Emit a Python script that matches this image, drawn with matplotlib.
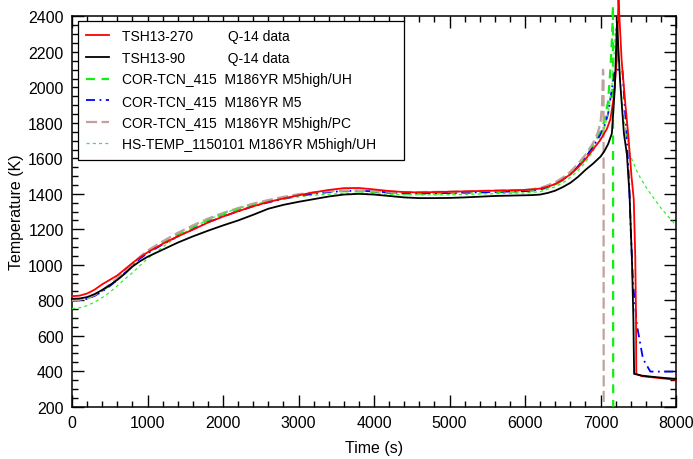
import numpy as np
import matplotlib
matplotlib.use("Agg")
import matplotlib.pyplot as plt
from matplotlib.ticker import MultipleLocator

plt.rcParams['font.family'] = ['Liberation Sans', 'DejaVu Sans']

# TSH13-270 (Q-14 data)
t_red = [0, 100, 200, 300, 400, 500, 600, 700, 800, 900, 1000, 1200, 1400, 1600, 1800,
         2000, 2200, 2400, 2600, 2800, 3000, 3200, 3400, 3600, 3800, 4000, 4200, 4400,
         4600, 4800, 5000, 5200, 5400, 5600, 5800, 6000, 6100, 6200, 6300, 6400, 6500,
         6600, 6700, 6800, 6900, 7000, 7085, 7130, 7173, 7215, 7238, 7280, 7330, 7370,
         7410, 7440, 7460, 7470, 7474, 7550, 7700, 7850, 8000]
T_red = [823, 826, 838, 860, 890, 915, 940, 975, 1010, 1042, 1070, 1118, 1160, 1198, 1238,
         1272, 1302, 1330, 1354, 1374, 1392, 1408, 1422, 1432, 1433, 1425, 1416, 1410,
         1408, 1410, 1412, 1414, 1416, 1418, 1420, 1422, 1425, 1430, 1440, 1455, 1480,
         1510, 1548, 1595, 1650, 1705, 1767, 1820, 1937, 2150, 2500, 2150, 1900, 1720,
         1500, 1370, 1050, 700, 385, 372, 365, 358, 352]

# TSH13-90 (Q-14 data)
t_blk = [0, 100, 200, 300, 400, 500, 600, 700, 800, 900, 1000, 1200, 1400, 1600, 1800,
         2000, 2200, 2400, 2600, 2800, 3000, 3200, 3400, 3600, 3800, 4000, 4200, 4400,
         4600, 4800, 5000, 5200, 5400, 5600, 5800, 6000, 6100, 6200, 6300, 6400, 6500,
         6600, 6700, 6800, 6900, 7000, 7050, 7100, 7150, 7190, 7218, 7260, 7310, 7350,
         7385, 7417, 7435, 7445, 7550, 7700, 7850, 8000]
T_blk = [808, 810, 818, 835, 858, 885, 915, 950, 990, 1020, 1045, 1085, 1125, 1160, 1192,
         1222, 1250, 1282, 1316, 1338, 1355, 1370, 1385, 1396, 1400, 1396, 1388, 1380,
         1376, 1376, 1377, 1380, 1384, 1388, 1390, 1392, 1393, 1396, 1405, 1418, 1438,
         1462, 1495, 1535, 1570, 1610, 1640, 1680, 1740, 2000, 2370, 2030, 1740, 1620,
         1390, 1015, 700, 385, 375, 368, 362, 357]

# COR-TCN_415 M186YR M5high/UH
t_grn = [0, 100, 200, 300, 400, 500, 600, 700, 800, 900, 1000, 1200, 1400, 1600, 1800,
         2000, 2200, 2400, 2600, 2800, 3000, 3200, 3400, 3600, 3800, 4000, 4200, 4400,
         4600, 4800, 5000, 5200, 5400, 5600, 5800, 6000, 6200, 6400, 6500, 6600, 6700,
         6800, 6900, 7000, 7050, 7100, 7130, 7155, 7165, 7168]
T_grn = [800, 802, 810, 828, 854, 885, 920, 960, 1000, 1040, 1072, 1124, 1172, 1212, 1250,
         1284, 1312, 1338, 1360, 1378, 1394, 1404, 1412, 1415, 1414, 1410, 1405, 1402,
         1401, 1402, 1404, 1406, 1408, 1410, 1412, 1414, 1422, 1452, 1478, 1510, 1552,
         1605, 1670, 1750, 1810, 1920, 2097, 2300, 2460, 200]

# COR-TCN_415 M186YR M5
t_blu = [0, 100, 200, 300, 400, 500, 600, 700, 800, 900, 1000, 1200, 1400, 1600, 1800,
         2000, 2200, 2400, 2600, 2800, 3000, 3200, 3400, 3600, 3800, 4000, 4200, 4400,
         4600, 4800, 5000, 5200, 5400, 5600, 5800, 6000, 6200, 6400, 6500, 6600, 6700,
         6800, 6900, 7000, 7050, 7100, 7151, 7190, 7290, 7320, 7350, 7380, 7400, 7430,
         7483, 7563, 7660, 7800, 8000]
T_blu = [797, 800, 808, 825, 850, 880, 915, 955, 995, 1035, 1065, 1115, 1160, 1200, 1240,
         1272, 1302, 1330, 1352, 1372, 1388, 1400, 1410, 1416, 1418, 1414, 1408, 1404,
         1403, 1404, 1405, 1407, 1409, 1411, 1413, 1415, 1425, 1455, 1480, 1512, 1555,
         1605, 1665, 1735, 1780, 1850, 1993, 2100, 2100, 1900, 1700, 1450, 1200, 900,
         657, 469, 398, 398, 398]

# COR-TCN_415 M186YR M5high/PC
t_brn = [0, 100, 200, 300, 400, 500, 600, 700, 800, 900, 1000, 1200, 1400, 1600, 1800,
         2000, 2200, 2400, 2600, 2800, 3000, 3200, 3400, 3600, 3800, 4000, 4200, 4400,
         4600, 4800, 5000, 5200, 5400, 5600, 5800, 6000, 6200, 6400, 6500, 6600, 6700,
         6800, 6900, 6960, 7000, 7020, 7033, 7040, 7042]
T_brn = [800, 803, 812, 830, 857, 888, 925, 965, 1005, 1045, 1080, 1132, 1180, 1222, 1260,
         1292, 1320, 1345, 1365, 1383, 1398, 1408, 1415, 1418, 1418, 1415, 1412, 1410,
         1410, 1411, 1412, 1414, 1416, 1418, 1420, 1422, 1432, 1465, 1492, 1525, 1568,
         1620, 1685, 1740, 1800, 1900, 2100, 2060, 200]

# HS-TEMP_1150101 M186YR M5high/UH
t_hs = [0, 100, 200, 300, 400, 500, 600, 700, 800, 900, 1000, 1200, 1400, 1600, 1800,
        2000, 2200, 2400, 2600, 2800, 3000, 3200, 3400, 3600, 3800, 4000, 4200, 4400,
        4600, 4800, 5000, 5200, 5400, 5600, 5800, 6000, 6200, 6400, 6500, 6600, 6700,
        6800, 6900, 7000, 7050, 7100, 7150, 7200, 7250, 7300, 7394, 7500, 7615, 7800, 8000]
T_hs = [753, 757, 770, 790, 815, 845, 882, 920, 955, 995, 1035, 1100, 1160, 1210, 1255,
        1290, 1318, 1340, 1358, 1372, 1383, 1392, 1398, 1402, 1402, 1400, 1397, 1395,
        1394, 1394, 1395, 1397, 1399, 1401, 1403, 1405, 1412, 1440, 1462, 1492, 1530,
        1578, 1640, 1715, 1770, 1850, 2000, 2330, 2100, 1850, 1617, 1510, 1429, 1320, 1222]

labels = ['TSH13-270         Q-14 data',
          'TSH13-90           Q-14 data',
          'COR-TCN_415  M186YR M5high/UH',
          'COR-TCN_415  M186YR M5',
          'COR-TCN_415  M186YR M5high/PC',
          'HS-TEMP_1150101 M186YR M5high/UH     ']

fig = plt.figure(figsize=(6.93, 4.60), dpi=100)
ax = fig.add_axes([0.1039, 0.1137, 0.8716, 0.8483])

ax.plot(t_grn, T_grn, color='#11ee11', lw=1.6, ls=(0, (4, 3)), label=labels[2], clip_on=False, zorder=3)
ax.plot(t_blu, T_blu, color='#0000ff', lw=1.3, ls=(0, (5, 2.5, 1, 2.5)), label=labels[3], clip_on=False, zorder=3)
ax.plot(t_brn, T_brn, color='#c0a0a0', lw=1.6, ls=(0, (5, 2)), label=labels[4], clip_on=False, zorder=3)
ax.plot(t_hs, T_hs, color='#33ee33', lw=0.9, ls=(0, (2.5, 2.5)), label=labels[5], clip_on=False, zorder=3)
ax.plot(t_red, T_red, color='#ff0000', lw=1.3, label=labels[0], clip_on=False, zorder=4)
ax.plot(t_blk, T_blk, color='black', lw=1.3, label=labels[1], clip_on=False, zorder=4)

ax.set_xlim(0, 8000)
ax.set_ylim(200, 2400)
ax.xaxis.set_major_locator(MultipleLocator(1000))
ax.xaxis.set_minor_locator(MultipleLocator(200))
ax.yaxis.set_major_locator(MultipleLocator(200))
ax.yaxis.set_minor_locator(MultipleLocator(50))
ax.tick_params(which='both', direction='in', top=True, right=True, width=1.0,
               labelsize=11.5, pad=6)
ax.tick_params(which='major', length=8.5)
ax.tick_params(which='minor', length=4.5)
for s in ax.spines.values():
    s.set_linewidth(1.1)

ax.set_xlabel('Time (s)', fontsize=11.5, labelpad=7)
ax.set_ylabel('Temperature (K)', fontsize=11.5, labelpad=3)

h, l = ax.get_legend_handles_labels()
order = [4, 5, 0, 1, 2, 3]
leg = ax.legend([h[i] for i in order], [l[i] for i in order], loc='upper left',
                bbox_to_anchor=(0.01, 0.989), borderaxespad=0, fontsize=10,
                handlelength=1.65, handletextpad=0.9, labelspacing=0.55,
                borderpad=0.6, fancybox=False, framealpha=1, edgecolor='black')
leg.get_frame().set_linewidth(0.9)

fig.savefig('out.png', dpi=100)
